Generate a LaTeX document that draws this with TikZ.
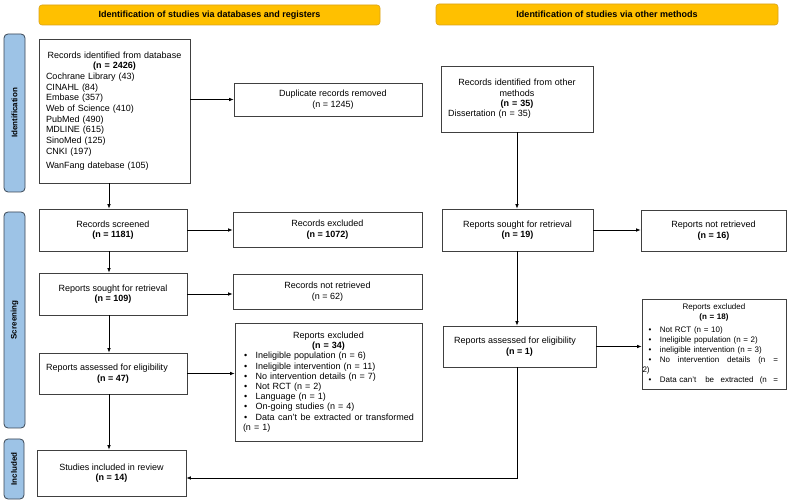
\documentclass[tikz,border=0pt]{standalone}
\usepackage{fontspec}
\setmainfont{Liberation Sans}
\usetikzlibrary{arrows.meta}
\definecolor{hdr}{HTML}{FFC000}
\definecolor{hdrline}{HTML}{D9A21B}
\definecolor{side}{HTML}{9DC3E6}
\definecolor{sideline}{HTML}{3A4654}
\definecolor{boxline}{HTML}{404040}
\tikzset{
  basebox/.style={draw=boxline, line width=0.8pt, fill=white, font=\fontsize{9}{10.5}\selectfont, inner sep=0pt},
  cbox/.style={basebox, align=center},
  hdrbox/.style={draw=hdrline, fill=hdr, rounded corners=3pt, line width=0.6pt, font=\bfseries\fontsize{9}{10}\selectfont, inner sep=0pt},
  sidebox/.style={draw=sideline, fill=side, rounded corners=4pt, line width=0.8pt, inner sep=0pt, rotate=90, font=\bfseries\fontsize{8}{9}\selectfont},
  arr/.style={draw=black, line width=0.7pt, -{Latex[length=4.5pt,width=3.6pt]}},
}
\newcommand{\bul}[1]{\hspace*{#1}\textbullet}
\begin{document}
\begin{tikzpicture}[x=1pt,y=-1pt]
\useasboundingbox (0,0) rectangle (790,502);

% headers
\node[hdrbox, minimum width=341pt, minimum height=20pt] (h1) at (209.5,15) {Identification of studies via databases and registers};
\node[hdrbox, minimum width=342pt, minimum height=21pt] (h2) at (607,14.5) {Identification of studies via other methods};

% side labels
\node[sidebox, minimum width=158pt, minimum height=21pt] (s1) at (14.5,113) {Identification};
\node[sidebox, minimum width=216pt, minimum height=21pt] (s2) at (14.5,320) {Screening};
\node[sidebox, minimum width=60pt, minimum height=20pt] (s3) at (14,469) {Included};

% left column
\node[basebox, font=\fontsize{9}{10.7}\selectfont, text width=137pt, inner xsep=7pt, minimum height=144pt] (db) at (114.5,111) {%
{\centering Records identified from database\\\textbf{(n = 2426)}\par}
\raggedright Cochrane Library (43)\\CINAHL (84)\\Embase (357)\\Web of Science (410)\\PubMed (490)\\MDLINE (615)\\SinoMed (125)\\CNKI (197)\\[3.5pt]WanFang datebase (105)};

\node[cbox, minimum width=188pt, minimum height=33pt] (dup) at (328,99.5) {\hspace*{10pt}Duplicate records removed\\\hspace*{10pt}(n = 1245)};

\node[cbox, minimum width=148pt, minimum height=42pt] (scr) at (113,230) {Records screened\\\textbf{(n = 1181)}};
\node[cbox, minimum width=189pt, minimum height=35pt] (exc) at (327.5,229.5) {Records excluded\\\textbf{(n = 1072)}};

\node[cbox, minimum width=148pt, minimum height=42pt] (sl) at (113,294) {Reports sought for retrieval\\\textbf{(n = 109)}};
\node[cbox, minimum width=189pt, minimum height=35pt] (nr) at (327.5,291.5) {Records not retrieved\\(n = 62)};

\node[cbox, minimum width=148pt, minimum height=41pt] (asl) at (113,373.5) {Reports assessed for eligibility\hspace*{12pt}\\\textbf{(n = 47)}};

\node[basebox, font=\fontsize{9}{10.2}\selectfont, text width=171pt, inner xsep=8pt, minimum height=118pt] (exl) at (328.5,382) {%
{\centering Reports excluded\\\textbf{(n = 34)}\par}
\bul{1pt}\hspace{8.5pt}Ineligible population (n = 6)\par
\bul{1pt}\hspace{8.5pt}Ineligible intervention (n = 11)\par
\bul{1pt}\hspace{8.5pt}No intervention details (n = 7)\par
\bul{1pt}\hspace{8.5pt}Not RCT (n = 2)\par
\bul{1pt}\hspace{8.5pt}Language (n = 1)\par
\bul{1pt}\hspace{8.5pt}On-going studies (n = 4)\par
\makebox[171pt][l]{\bul{1pt}\hspace{8.5pt}Data \hfill can’t \hfill be \hfill extracted \hfill or \hfill transformed}\par
(n = 1)\par};

\node[cbox, minimum width=149pt, minimum height=46pt] (stu) at (111.5,473) {Studies included in review\\\textbf{(n = 14)}};

% right column
\node[basebox, text width=138pt, inner xsep=7pt, minimum height=66pt, font=\fontsize{9}{10.3}\selectfont] (oth) at (517,99) {%
{\centering Records identified from other\\methods\\\textbf{(n = 35)}\par}
Dissertation (n = 35)};

\node[cbox, minimum width=151pt, minimum height=42pt] (rs) at (517.5,230) {Reports sought for retrieval\\\textbf{(n = 19)}};
\node[cbox, minimum width=145pt, minimum height=41pt] (rnr) at (713.5,230.5) {Reports not retrieved\\\textbf{(n = 16)}};

\node[cbox, minimum width=153pt, minimum height=41pt] (asr) at (519.5,346.5) {Reports assessed for eligibility\hspace*{9pt}\\\textbf{(n = 1)}};

\node[basebox, font=\fontsize{8}{9.9}\selectfont, text width=143pt, inner xsep=0.5pt, minimum height=90pt] (exr) at (714,344) {%
{\centering Reports excluded\\\textbf{(n = 18)}\par}
\vspace{3pt}
\bul{6pt}\hspace{8.5pt}Not RCT (n = 10)\par
\bul{6pt}\hspace{8.5pt}Ineligible population (n = 2)\par
\bul{6pt}\hspace{8.5pt}ineligible intervention (n = 3)\par
\makebox[135.5pt][l]{\bul{6pt}\hspace{8.5pt}No \hfill intervention \hfill details \hfill (n \hfill =}\par
2)\par
\makebox[135.5pt][l]{\bul{6pt}\hspace{8.5pt}Data can’t\hfill\ \ be \hfill extracted \hfill (n \hfill =}\par};

% connectors
\coordinate (lx) at (109,0);
\coordinate (rx) at (517,0);
\coordinate (ry) at (0,478);
\draw[arr] (db.south -| lx) -- (scr.north -| lx);
\draw[arr] (scr.south -| lx) -- (sl.north -| lx);
\draw[arr] (sl.south -| lx) -- (asl.north -| lx);
\draw[arr] (asl.south -| lx) -- (stu.north -| lx);
\draw[arr] (db.east |- dup.west) -- (dup.west);
\draw[arr] (scr.east) -- (scr.east -| exc.west);
\draw[arr] (sl.east) -- (sl.east -| nr.west);
\draw[arr] (asl.east) -- (asl.east -| exl.west);
\draw[arr] (oth.south -| rx) -- (rs.north -| rx);
\draw[arr] (rs.south -| rx) -- (asr.north -| rx);
\draw[arr] (rs.east) -- (rs.east -| rnr.west);
\draw[arr] (asr.east) -- (asr.east -| exr.west);
\draw[arr] (asr.south -| rx) |- (stu.east |- ry);
\end{tikzpicture}
\end{document}
